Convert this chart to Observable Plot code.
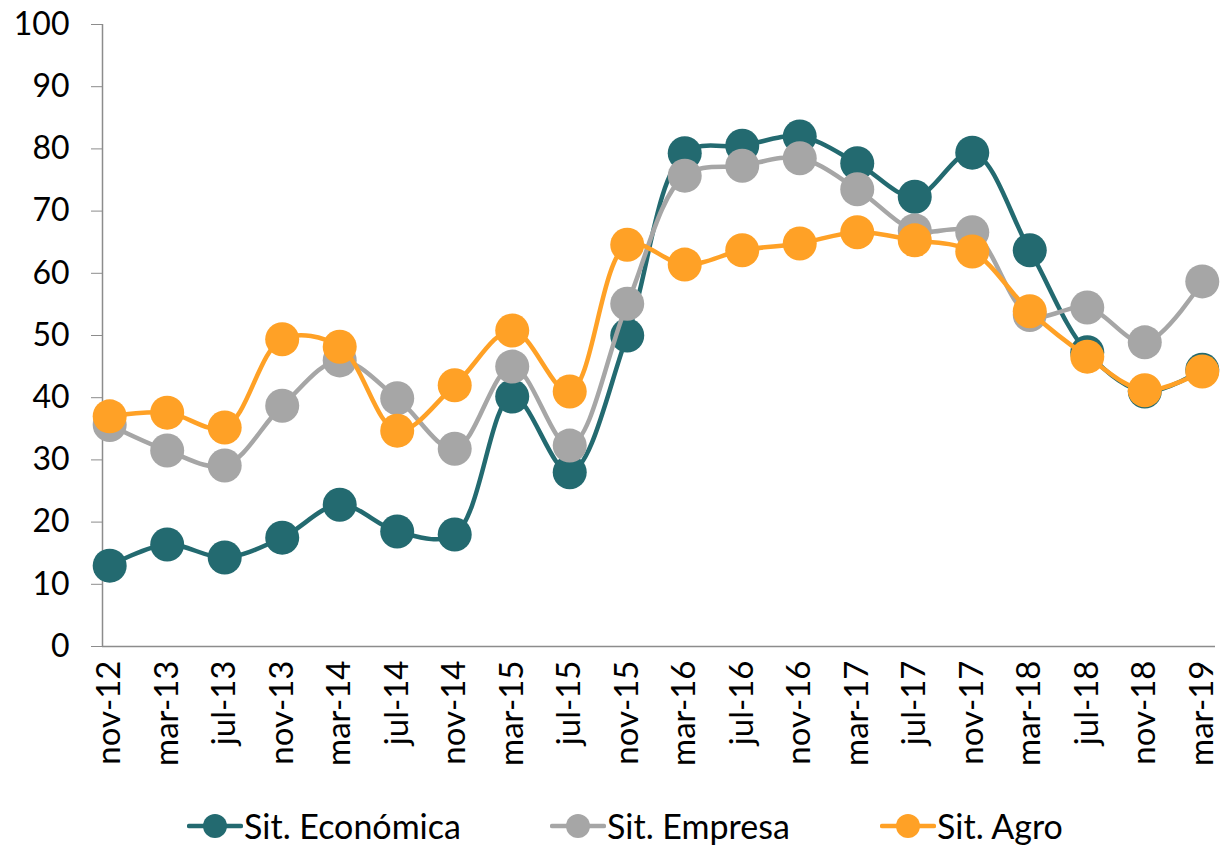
<!DOCTYPE html>
<html>
<head>
<meta charset="utf-8">
<script src="https://cdn.jsdelivr.net/npm/d3@7"></script>
<script src="https://cdn.jsdelivr.net/npm/@observablehq/plot@0.6"></script>
<style>
  body { margin: 0; background: #fff; font-family: Lato, "Open Sans", sans-serif; }
  #legend { position: relative; height: 48px; font-size: 34px; color: #000; }
  .item { display: flex; align-items: center; position: absolute; top: 5px; }
  .item svg { margin-right: 1px; }
</style>
</head>
<body>
<div id="chart"></div>
<div id="legend"></div>
<script>
const labels = ["nov-12","mar-13","jul-13","nov-13","mar-14","jul-14","nov-14","mar-15","jul-15","nov-15",
                "mar-16","jul-16","nov-16","mar-17","jul-17","nov-17","mar-18","jul-18","nov-18","mar-19"];
const economica = [13.0,16.4,14.3,17.5,22.8,18.5,18.0,40.2,28.0,50.0,79.3,80.5,82.0,77.7,72.3,79.4,63.7,47.3,41.0,44.5];
const empresa   = [35.6,31.5,29.1,38.7,46.0,39.9,31.8,45.0,32.3,55.1,75.7,77.3,78.5,73.5,66.9,66.6,53.3,54.5,48.9,58.7];
const agro      = [37.0,37.6,35.2,49.4,48.2,34.7,42.0,50.8,41.0,64.6,61.4,63.7,64.8,66.6,65.3,63.5,53.9,46.6,41.2,44.2];
const seriesNames = ["Sit. Económica","Sit. Empresa","Sit. Agro"];
const seriesColors = ["#236a70","#a6a6a6","#ffa126"];
const yTicks = [0,10,20,30,40,50,60,70,80,90,100];

const seriesValues = [economica, empresa, agro];
const xMin = -0.125, xMax = 19.23;
const axisGrey = "#8c8c8c";

const marks = [];
seriesValues.forEach((vals, s) => {
  const data = vals.map((v, i) => ({i, v}));
  marks.push(Plot.line(data, {x: "i", y: "v", stroke: seriesColors[s], strokeWidth: 4.5, curve: "catmull-rom"}));
  marks.push(Plot.dot(data, {x: "i", y: "v", r: 17, fill: seriesColors[s], stroke: "none"}));
});

const plot = Plot.plot({
  width: 1221,
  height: 800,
  marginLeft: 102,
  marginRight: 6,
  marginTop: 24,
  marginBottom: 154,
  style: {fontFamily: "Lato, 'Open Sans', sans-serif", fontSize: "32px", color: "#000", background: "#fff"},
  x: {type: "linear", domain: [xMin, xMax]},
  y: {domain: [0, 100]},
  marks: [
    Plot.ruleY([0], {stroke: axisGrey, strokeWidth: 1.5}),
    Plot.ruleX([xMin], {stroke: axisGrey, strokeWidth: 1.5}),
    Plot.axisY({ticks: yTicks, tickSize: 11, tickPadding: 22, stroke: axisGrey, fill: "#000", fontSize: 32, label: null}),
    Plot.axisX({ticks: d3.range(labels.length), tickFormat: i => labels[i], tickRotate: -90, tickSize: 0, tickPadding: 14, fontSize: 33, fill: "#000", label: null}),
    ...marks
  ]
});
document.getElementById("chart").appendChild(plot);

const legend = document.getElementById("legend");
const legendLeft = [187, 550, 880];
seriesNames.forEach((name, s) => {
  const item = document.createElement("div");
  item.className = "item";
  item.style.left = legendLeft[s] + "px";
  item.innerHTML = `<svg width="56" height="30"><line x1="2" y1="15" x2="54" y2="15" stroke="${seriesColors[s]}" stroke-width="4.5" stroke-linecap="round"/><circle cx="28" cy="15" r="12" fill="${seriesColors[s]}"/></svg><span>${name}</span>`;
  legend.appendChild(item);
});
</script>
</body>
</html>
